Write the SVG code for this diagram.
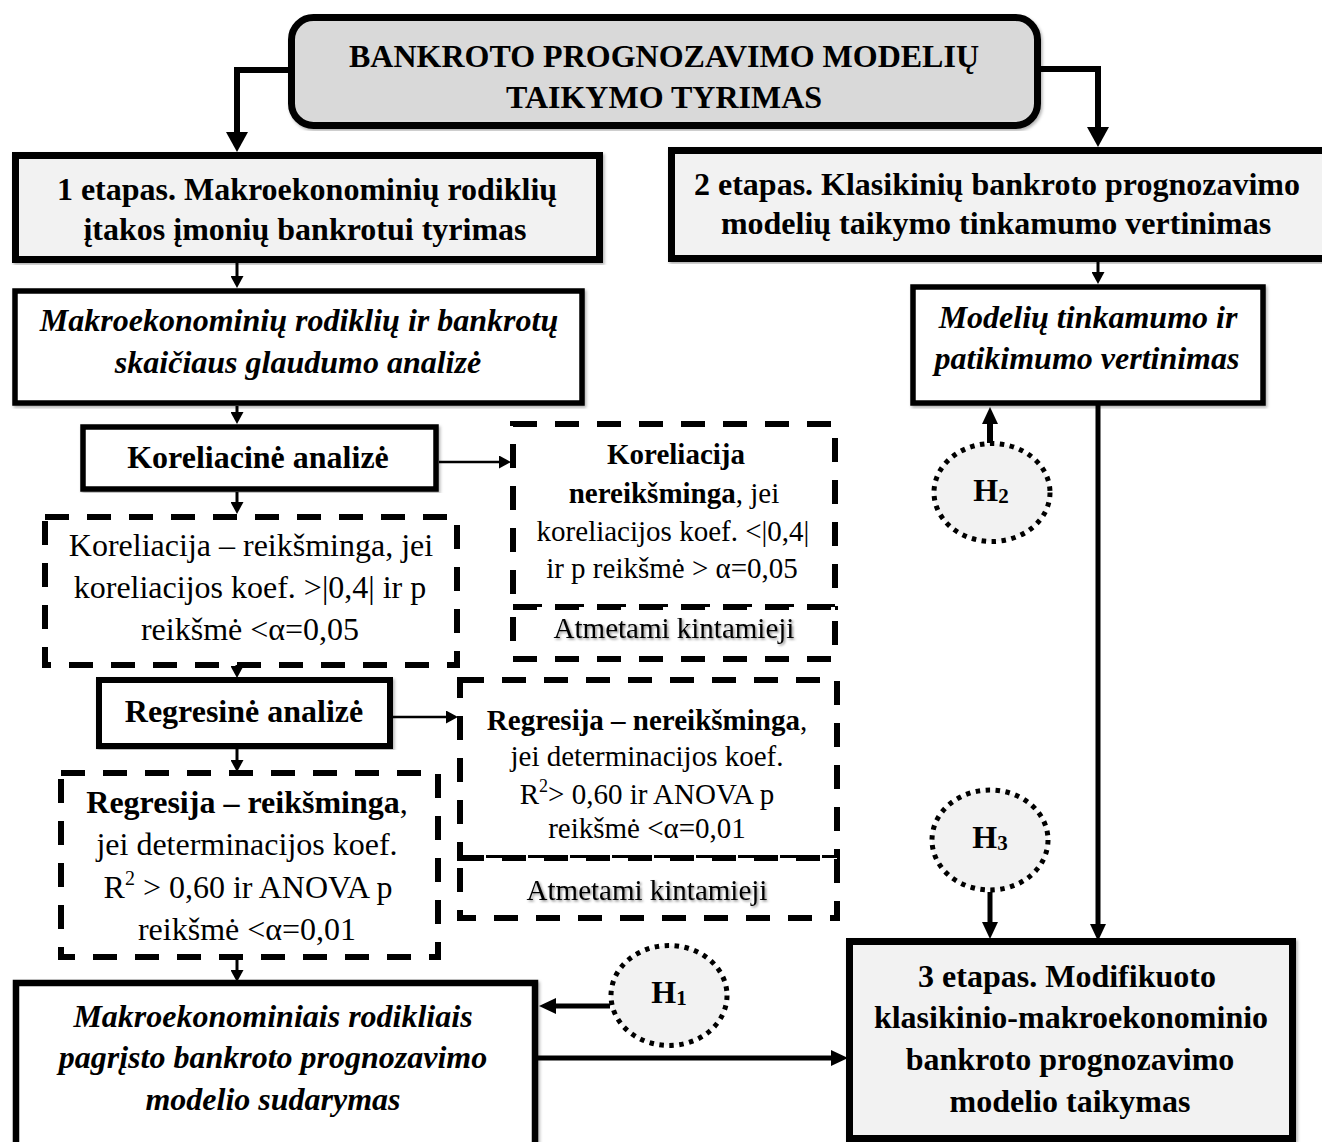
<svg xmlns="http://www.w3.org/2000/svg" width="1322" height="1142" viewBox="0 0 1322 1142">
  <style>
    .t { font-family: "Liberation Serif", "Times New Roman", serif; font-size: 32px; text-anchor: middle; fill: #000; }
    .sm { font-size: 29px; }
    .b { font-weight: bold; }
    .bi { font-weight: bold; font-style: italic; }
    .box { fill: #fff; stroke: #000; stroke-linejoin: miter; }
    .stage { fill: #f2f2f2; stroke: #000; stroke-width: 7; }
    .dash { fill: #fff; stroke: #000; stroke-width: 6; stroke-dasharray: 24 18; }
    .hyp { fill: #f2f2f2; stroke: #000; stroke-width: 5; stroke-dasharray: 4.5 5.5; }
    .c { fill: none; stroke: #000; }
    .shadow { filter: url(#soft); }
    .tshadow { filter: url(#txt); }
  </style>
  <defs>
    <filter id="soft" x="-5%" y="-5%" width="110%" height="110%">
      <feDropShadow dx="1.5" dy="2" stdDeviation="1.5" flood-color="#000" flood-opacity="0.3"/>
    </filter>
    <filter id="txt" x="-5%" y="-20%" width="110%" height="140%">
      <feDropShadow dx="1.5" dy="1.5" stdDeviation="1" flood-color="#000" flood-opacity="0.45"/>
    </filter>
    <marker id="tipL" markerUnits="userSpaceOnUse" viewBox="0 0 20 22" markerWidth="20" markerHeight="22" refX="0" refY="11" orient="auto">
      <path d="M0,0 L20,11 L0,22 z" fill="#000"/>
    </marker>
    <marker id="tipM" markerUnits="userSpaceOnUse" viewBox="0 0 17 16" markerWidth="17" markerHeight="16" refX="0" refY="8" orient="auto">
      <path d="M0,0 L17,8 L0,16 z" fill="#000"/>
    </marker>
    <marker id="tipS" markerUnits="userSpaceOnUse" viewBox="0 0 12 13" markerWidth="12" markerHeight="13" refX="0" refY="6.5" orient="auto">
      <path d="M0,0 L12,6.5 L0,13 z" fill="#000"/>
    </marker>
  </defs>

  <!-- connectors -->
  <g id="connectors">
    <path class="c" stroke-width="6" d="M290,70 H237 V132" marker-end="url(#tipL)"/>
    <path class="c" stroke-width="6" d="M1040,69 H1098 V127" marker-end="url(#tipL)"/>
    <path class="c" stroke-width="3" d="M237,263 V276" marker-end="url(#tipS)"/>
    <path class="c" stroke-width="3" d="M237,406 V412" marker-end="url(#tipS)"/>
    <path class="c" stroke-width="3" d="M237,492 V502" marker-end="url(#tipS)"/>
    <path class="c" stroke-width="3" d="M237,662 V666" marker-end="url(#tipS)"/>
    <path class="c" stroke-width="3" d="M237,749 V760" marker-end="url(#tipS)"/>
    <path class="c" stroke-width="3" d="M237,958 V970" marker-end="url(#tipS)"/>
    <path class="c" stroke-width="3" d="M1098,262 V272" marker-end="url(#tipS)"/>
    <path class="c" stroke-width="2.5" d="M439,462 H499" marker-end="url(#tipS)"/>
    <path class="c" stroke-width="2.5" d="M393,717 H446" marker-end="url(#tipS)"/>
    <path class="c" stroke-width="5" d="M1098,405 V924" marker-end="url(#tipM)"/>
    <path class="c" stroke-width="6" d="M990,443 V424" marker-end="url(#tipM)"/>
    <path class="c" stroke-width="5" d="M990,892 V922" marker-end="url(#tipM)"/>
    <path class="c" stroke-width="5" d="M610,1006 H556" marker-end="url(#tipM)"/>
    <path class="c" stroke-width="5" d="M538,1058 H831" marker-end="url(#tipM)"/>
  </g>

  <!-- title -->
  <g id="title">
    <rect class="box shadow" x="291.5" y="17.5" width="746" height="108" rx="22" fill="#d9d9d9" style="fill:#d9d9d9" stroke-width="7"/>
    <text class="t b" x="664" y="67">BANKROTO PROGNOZAVIMO MODELIŲ</text>
    <text class="t b" x="664" y="108">TAIKYMO TYRIMAS</text>
  </g>

  <!-- stage 1 -->
  <g id="stage1">
    <rect class="stage shadow" x="15.5" y="155.5" width="584" height="104"/>
    <text class="t b" x="307" y="200">1 etapas. Makroekonominių rodiklių</text>
    <text class="t b" x="305" y="240">įtakos įmonių bankrotui tyrimas</text>
  </g>

  <!-- stage 2 -->
  <g id="stage2">
    <rect class="stage shadow" x="671.5" y="150.5" width="660" height="108"/>
    <text class="t b" x="997" y="195">2 etapas. Klasikinių bankroto prognozavimo</text>
    <text class="t b" x="996" y="234">modelių taikymo tinkamumo vertinimas</text>
  </g>

  <!-- correlation strength analysis -->
  <g id="closeness">
    <rect class="box shadow" x="15" y="291" width="567" height="112" stroke-width="5.5"/>
    <text class="t bi" x="299" y="331">Makroekonominių rodiklių ir bankrotų</text>
    <text class="t bi" x="298" y="373">skaičiaus glaudumo analizė</text>
  </g>

  <!-- model reliability assessment -->
  <g id="reliability">
    <rect class="box shadow" x="913" y="287" width="350" height="116" stroke-width="5.5"/>
    <text class="t bi" x="1088" y="328">Modelių tinkamumo ir</text>
    <text class="t bi" x="1087" y="369">patikimumo vertinimas</text>
  </g>

  <!-- correlation analysis -->
  <g id="correlation">
    <rect class="box shadow" x="83" y="427" width="353" height="62" stroke-width="5.5"/>
    <text class="t b" x="258" y="468">Koreliacinė analizė</text>
  </g>

  <g id="corr-significant">
    <rect class="dash" x="45" y="517" width="412" height="148"/>
    <text class="t" x="251" y="556">Koreliacija – reikšminga, jei</text>
    <text class="t" x="250" y="598">koreliacijos koef. &gt;|0,4| ir p</text>
    <text class="t" x="250" y="640">reikšmė &lt;α=0,05</text>
  </g>

  <g id="corr-insignificant">
    <rect class="dash" x="513" y="424" width="322" height="183"/>
    <text class="t sm b" x="676" y="464">Koreliacija</text>
    <text class="t sm" x="674" y="503"><tspan class="b">nereikšminga</tspan>, jei</text>
    <text class="t sm" x="673" y="541">koreliacijos koef. &lt;|0,4|</text>
    <text class="t sm" x="672" y="578">ir p reikšmė &gt; α=0,05</text>
  </g>
  <g id="corr-rejected">
    <rect class="dash" x="513" y="607" width="322" height="52"/>
    <text class="t sm tshadow" x="674" y="638">Atmetami kintamieji</text>
  </g>

  <!-- regression analysis -->
  <g id="regression">
    <rect class="box shadow" x="99" y="680" width="291" height="66" stroke-width="6"/>
    <text class="t b" x="244" y="722">Regresinė analizė</text>
  </g>

  <g id="reg-significant">
    <rect class="dash" x="61" y="773" width="377" height="184"/>
    <text class="t" x="247" y="813"><tspan class="b">Regresija – reikšminga</tspan>,</text>
    <text class="t" x="247" y="855">jei determinacijos koef.</text>
    <text class="t" x="248" y="898">R<tspan font-size="20" dy="-13">2</tspan><tspan dy="13"> &gt; 0,60 ir ANOVA p</tspan></text>
    <text class="t" x="247" y="940">reikšmė &lt;α=0,01</text>
  </g>

  <g id="reg-insignificant">
    <rect class="dash" x="460" y="680" width="377" height="178"/>
    <text class="t sm" x="647" y="730"><tspan class="b">Regresija – nereikšminga</tspan>,</text>
    <text class="t sm" x="647" y="766">jei determinacijos koef.</text>
    <text class="t sm" x="647" y="804">R<tspan font-size="18" dy="-12">2</tspan><tspan dy="12">&gt; 0,60 ir ANOVA p</tspan></text>
    <text class="t sm" x="647" y="838">reikšmė &lt;α=0,01</text>
  </g>
  <g id="reg-rejected">
    <rect class="dash" x="460" y="858" width="377" height="60"/>
    <text class="t sm tshadow" x="647" y="900">Atmetami kintamieji</text>
  </g>

  <!-- macro-based model -->
  <g id="macro-model">
    <rect class="box shadow" x="16" y="983" width="519" height="175" stroke-width="6.5"/>
    <text class="t bi" x="273" y="1027">Makroekonominiais rodikliais</text>
    <text class="t bi" x="273" y="1068">pagrįsto bankroto prognozavimo</text>
    <text class="t bi" x="273" y="1110">modelio sudarymas</text>
  </g>

  <!-- stage 3 -->
  <g id="stage3">
    <rect class="stage shadow" x="849.5" y="941.5" width="443" height="197"/>
    <text class="t b" x="1067" y="987">3 etapas. Modifikuoto</text>
    <text class="t b" x="1071" y="1028">klasikinio-makroekonominio</text>
    <text class="t b" x="1070" y="1070">bankroto prognozavimo</text>
    <text class="t b" x="1070" y="1112">modelio taikymas</text>
  </g>

  <!-- hypotheses -->
  <g id="h1">
    <ellipse class="hyp" cx="669" cy="995.5" rx="58" ry="50"/>
    <text class="t b" x="669" y="1003">H<tspan font-size="21" dy="2">1</tspan></text>
  </g>
  <g id="h2">
    <ellipse class="hyp" cx="992" cy="492.5" rx="58" ry="49"/>
    <text class="t b" x="991" y="501">H<tspan font-size="21" dy="2">2</tspan></text>
  </g>
  <g id="h3">
    <ellipse class="hyp" cx="990" cy="840" rx="58" ry="50"/>
    <text class="t b" x="990" y="848">H<tspan font-size="21" dy="2">3</tspan></text>
  </g>
</svg>
